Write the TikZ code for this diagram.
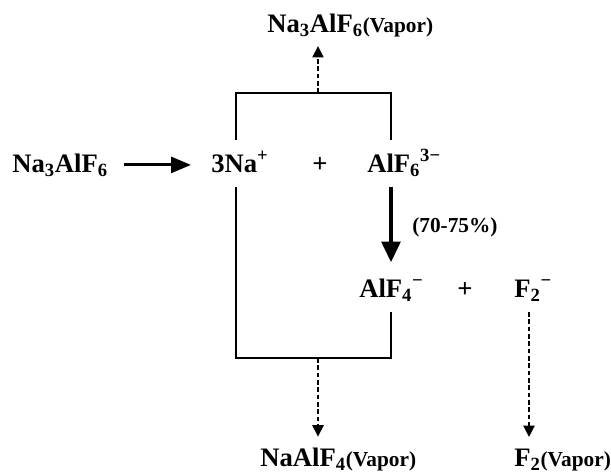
\documentclass[tikz,border=0pt]{standalone}
\usepackage{fontspec}
\setmainfont{Liberation Serif}
\usetikzlibrary{arrows.meta}
\tikzset{
  chem/.style={inner sep=0pt, anchor=base west, font=\fontsize{20}{24}\selectfont\bfseries},
  note/.style={inner sep=0pt, anchor=base west, font=\fontsize{16}{19}\selectfont\bfseries},
  frame/.style={line width=1.1pt},
  rxn/.style={-{Triangle[length=15pt,width=12pt]}, line width=2.2pt},
  bigrxn/.style={-{Triangle[length=15.5pt,width=14pt]}, line width=3pt},
  vap/.style={-{Triangle[length=8.5pt,width=8.5pt]}, line width=1pt, dash pattern=on 3.5pt off 2pt},
}
\newcommand{\vapor}{{\fontsize{16}{19}\selectfont(Vapor)}}

\begin{document}
\begin{tikzpicture}[x=0.75pt,y=-0.75pt]
\useasboundingbox (0,0) rectangle (611,475);
% species
\node[chem] (vapTop) at (267,32) {Na\textsubscript{3}AlF\textsubscript{6}\vapor};
\node[chem] (naf) at (12,172) {Na\textsubscript{3}AlF\textsubscript{6}};
\node[chem] (na) at (211,172) {3Na\textsuperscript{+}};
\node[chem] (plusA) at (312,172) {+};
\node[chem] (alf6) at (367,172) {AlF\textsubscript{6}\textsuperscript{3−}};
\node[note] (pct) at (412,232) {(70-75\%)};
\node[chem] (alf4) at (359,297) {AlF\textsubscript{4}\textsuperscript{−}};
\node[chem] (plusB) at (457,297) {+};
\node[chem] (ftwo) at (514,297) {F\textsubscript{2}\textsuperscript{−}};
\node[chem] (naalfV) at (260,466) {NaAlF\textsubscript{4}\vapor};
\node[chem] (ftwoV) at (514,466) {F\textsubscript{2}\vapor};
% box corners
\coordinate (boxTop) at (318,93);
\coordinate (naUp) at (236,140);
\coordinate (alfUp) at (391,140);
\coordinate (naDown) at (236,187);
\coordinate (alfDown) at (391,187);
\coordinate (alf4Down) at (391,312);
\coordinate (boxBot) at (318,358);
\coordinate (ftwoDown) at (529,312);
% connectors
\draw[rxn, shorten <=12pt, shorten >=15pt] (naf.east) -- (naf.east -| na.west);
\draw[frame] (naUp) |- (boxTop) -| (alfUp);
\draw[vap, shorten >=7pt] (boxTop) -- (boxTop |- vapTop.south);
\draw[bigrxn, shorten >=12pt] (alfDown) -- (alfDown |- alf4.north);
\draw[frame] (naDown) |- (boxBot) -| (alf4Down);
\draw[vap, shorten >=8pt] (boxBot) -- (boxBot |- naalfV.north);
\draw[vap, shorten >=8.5pt] (ftwoDown) -- (ftwoDown |- ftwoV.north);
\end{tikzpicture}
\end{document}
